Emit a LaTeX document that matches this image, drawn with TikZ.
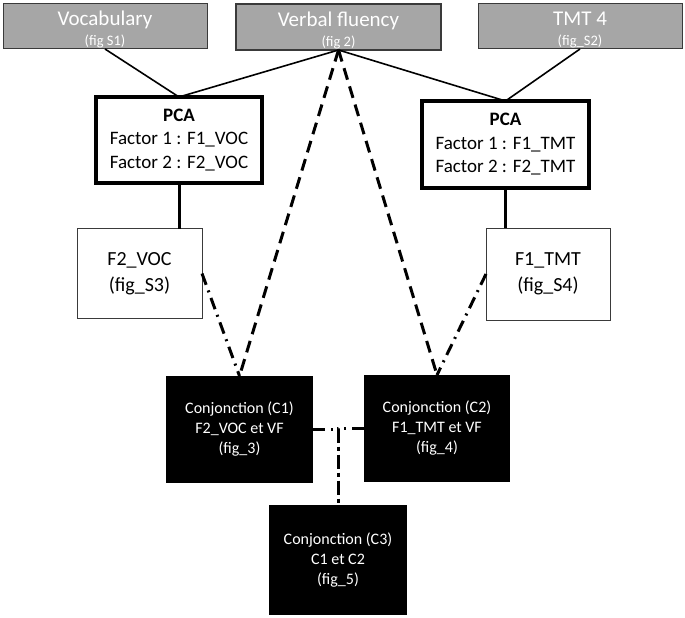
\documentclass[tikz,border=0pt]{standalone}
\usepackage{fontspec}
\setmainfont{Carlito}
\usepackage{tikz}

\definecolor{testgray}{HTML}{A6A6A6}
\definecolor{rimgray}{HTML}{3A3A3A}

\tikzset{
  testbox/.style={draw=rimgray, line width=1pt, fill=testgray, text=white,
    align=center, inner sep=0pt, outer sep=0pt,
    minimum width=204pt, minimum height=45pt,
    font=\fontsize{21}{20}\selectfont},
  pcabox/.style={draw=black, line width=4pt, fill=white, align=center,
    inner sep=0pt, outer sep=0pt, minimum width=166pt, minimum height=86pt,
    font=\fontsize{19}{23.5}\selectfont},
  factorbox/.style={draw=rimgray, line width=1pt, fill=white, align=center,
    inner sep=0pt, outer sep=0pt, minimum width=125pt, minimum height=90pt,
    font=\fontsize{20}{26}\selectfont},
  conjbox/.style={fill=black, text=white, align=center,
    inner sep=0pt, outer sep=0pt, minimum width=147pt, minimum height=107pt,
    font=\fontsize{16}{20}\selectfont},
  link/.style={line width=1.6pt},
  thicklink/.style={line width=3pt},
  dashlink/.style={line width=3pt, dash pattern=on 12pt off 7pt},
  dotlink/.style={line width=3pt, dash pattern=on 12pt off 6pt on 2pt off 6pt}
}

\newcommand{\testname}[2]{\rule{0pt}{21pt}#1\\{\fontsize{14.5}{15}\selectfont #2}}

\begin{document}
\begin{tikzpicture}[x=1pt,y=1pt]
  \useasboundingbox
    (0,0)
    rectangle
    (685,-618);
  \node[testbox] (voc) at (105,-26.5) {\testname{Vocabulary}{(fig S1)}};
  \node[testbox, line width=2pt, minimum width=205pt, minimum height=46pt]
    (vf) at (338.5,-27) {\testname{Verbal fluency}{(fig 2)}};
  \node[testbox] (tmt) at (580,-26.5) {\testname{TMT 4}{(fig\_S2)}};
  \node[pcabox] (pca1) at (179,-140)
    {\textbf{PCA}\\Factor 1 : F1\_VOC\\Factor 2 : F2\_VOC};
  \node[pcabox, minimum width=167pt, minimum height=87pt] (pca2) at (505.5,-144.5)
    {\textbf{PCA}\\Factor 1 : F1\_TMT\\Factor 2 : F2\_TMT};
  \node[factorbox] (f2voc) at (139.5,-273.5) {F2\_VOC\\(fig\_S3)};
  \node[factorbox, minimum width=124pt, minimum height=92pt]
    (f1tmt) at (548,-274) {F1\_TMT\\(fig\_S4)};
  \node[conjbox] (c1) at (239.5,-429.5)
    {Conjonction (C1)\\F2\_VOC et VF\\(fig\_3)};
  \node[conjbox, minimum width=146pt] (c2) at (437,-428.5)
    {Conjonction (C2)\\F1\_TMT et VF\\(fig\_4)};
  \node[conjbox, minimum width=138pt, minimum height=110pt] (c3) at (338,-560)
    {Conjonction (C3)\\C1 et C2\\(fig\_5)};
  \draw[link]
    (voc.south)
    --
    (pca1.north);
  \draw[link]
    (vf.south)
    --
    (pca1.north);
  \draw[link]
    (vf.south)
    --
    (pca2.north);
  \draw[link]
    (tmt.south)
    --
    (pca2.north);
  \draw[thicklink]
    (pca1.south)
    --
    (pca1.south |- f2voc.north);
  \draw[thicklink]
    (pca2.south)
    --
    (pca2.south |- f1tmt.north);
  \draw[dashlink]
    (vf.south)
    --
    (c1.north);
  \draw[dashlink]
    (vf.south)
    --
    (c2.north);
  \draw[dotlink]
    (f2voc.east)
    --
    (c1.north);
  \draw[dotlink]
    (f1tmt.west)
    --
    (c2.north);
  \draw[dotlink]
    (c1.east)
    -|
    (c3.north);
  \draw[dotlink]
    (c2.west)
    -|
    (c3.north);
\end{tikzpicture}
\end{document}
